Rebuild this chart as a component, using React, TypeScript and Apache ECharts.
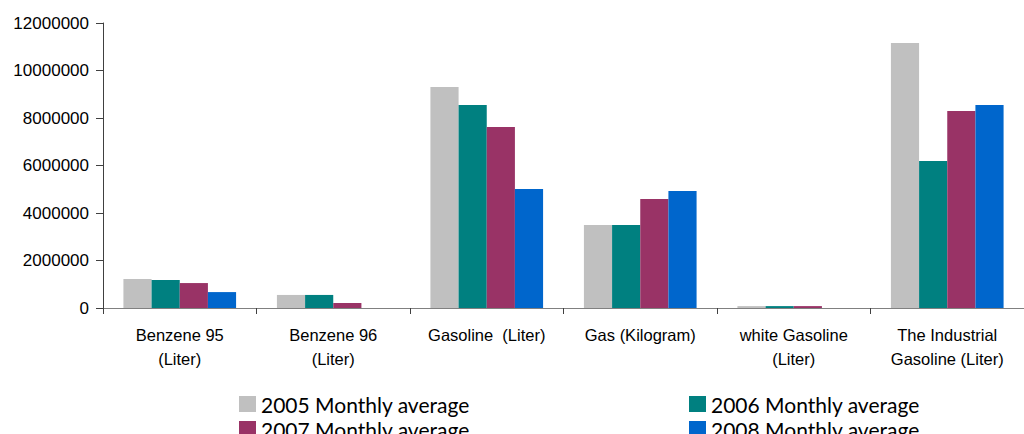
import React, { useEffect, useRef } from "react";
import * as echarts from "echarts";

const categories = [
  "Benzene 95\n(Liter)",
  "Benzene 96\n(Liter)",
  "Gasoline  (Liter)",
  "Gas (Kilogram)",
  "white Gasoline\n(Liter)",
  "The Industrial\nGasoline (Liter)",
];
const seriesNames = [
  "2005 Monthly average",
  "2006 Monthly average",
  "2007 Monthly average",
  "2008 Monthly average",
];
const values2005 = [1220000, 550000, 9310000, 3490000, 80000, 11160000];
const values2006 = [1180000, 550000, 8550000, 3490000, 80000, 6190000];
const values2007 = [1050000, 210000, 7620000, 4590000, 80000, 8300000];
const values2008 = [670000, 0, 5010000, 4930000, 0, 8550000];
const colors = ["#C0C0C0", "#008080", "#993366", "#0066CC"];

export default function App() {
  const ref = useRef<HTMLDivElement>(null);
  useEffect(() => {
    if (!ref.current) return;
    const chart = echarts.init(ref.current, null, { renderer: "svg" });
    const allValues = [values2005, values2006, values2007, values2008];
    const legendText = {
      fontFamily: "Lato",
      fontSize: 21,
      color: "#000",
      lineHeight: 22,
    };
    const legendBase = {
      orient: "vertical",
      top: 393,
      height: 80,
      width: 300,
      itemWidth: 17,
      itemHeight: 16,
      itemGap: 3,
      padding: 0,
      icon: "rect",
      textStyle: legendText,
    };
    chart.setOption({
      animation: false,
      grid: { left: 103, top: 23, width: 924, height: 285, containLabel: false },
      legend: [
        { ...legendBase, data: [seriesNames[0], seriesNames[2]], left: 239 },
        { ...legendBase, data: [seriesNames[1], seriesNames[3]], left: 689 },
      ],
      xAxis: {
        type: "category",
        data: categories,
        axisLine: { lineStyle: { color: "#808080", width: 1 } },
        axisTick: { show: true, length: 6, lineStyle: { color: "#404040" } },
        axisLabel: {
          interval: 0,
          fontFamily: "Liberation Sans",
          fontSize: 16.5,
          color: "#000",
          lineHeight: 24,
          margin: 15,
        },
      },
      yAxis: {
        type: "value",
        min: 0,
        max: 12000000,
        interval: 2000000,
        axisLine: { show: true, lineStyle: { color: "#404040", width: 1 } },
        axisTick: { show: true, length: 7, lineStyle: { color: "#404040" } },
        splitLine: { show: false },
        axisLabel: {
          fontFamily: "Liberation Sans",
          fontSize: 17,
          color: "#000",
          margin: 14,
          formatter: (v: number) => String(v),
        },
      },
      series: seriesNames.map((name, i) => ({
        name,
        type: "bar",
        data: allValues[i],
        itemStyle: { color: colors[i] },
        barGap: "0%",
        barCategoryGap: "26.6%",
      })),
    });
    return () => chart.dispose();
  }, []);
  return (
    <div
      ref={ref}
      style={{ position: "absolute", left: 0, top: 0, width: 1024, height: 434 }}
    />
  );
}
